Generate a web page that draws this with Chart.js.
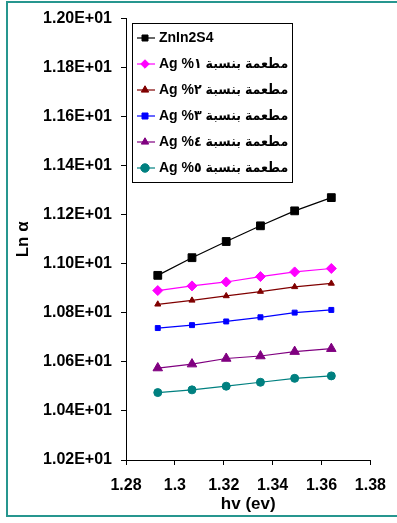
<!DOCTYPE html>
<html>
<head>
<meta charset="utf-8">
<script src="https://cdn.jsdelivr.net/npm/chart.js@4.4.1/dist/chart.umd.min.js"></script>
<style>
  html, body { margin: 0; padding: 0; background: #fff; overflow: hidden; }
  canvas { display: block; }
</style>
</head>
<body>
<canvas id="c" width="397" height="523"></canvas>
<script>
// photon energy (eV)
const hv = [1.293, 1.307, 1.321, 1.335, 1.349, 1.364];

// ln(alpha) for each sample
const znIn2S4 = [10.953, 11.025, 11.091, 11.155, 11.216, 11.270];
const ag1 = [10.891, 10.910, 10.926, 10.948, 10.967, 10.981];
const ag2 = [10.835, 10.851, 10.869, 10.887, 10.906, 10.920];
const ag3 = [10.738, 10.750, 10.765, 10.782, 10.801, 10.812];
const ag4 = [10.575, 10.591, 10.614, 10.624, 10.642, 10.654];
const ag5 = [10.475, 10.486, 10.501, 10.517, 10.533, 10.543];

const seriesNames = [
  'ZnIn2S4',
  'مطعمة بنسبة ١% Ag',
  'مطعمة بنسبة ٢% Ag',
  'مطعمة بنسبة ٣% Ag',
  'مطعمة بنسبة ٤% Ag',
  'مطعمة بنسبة ٥% Ag'
];

const xTicks = [1.28, 1.30, 1.32, 1.34, 1.36, 1.38];
const yTicks = [10.2, 10.4, 10.6, 10.8, 11.0, 11.2, 11.4, 11.6, 11.8, 12.0];

const FONT = '"Liberation Sans", Arial, "DejaVu Sans", sans-serif';
const LEGEND_FONT = '"Liberation Sans", Arial, "DejaVu Sans Condensed", "DejaVu Sans", sans-serif';
const LEGEND_SIZE = 14;

function sci(v) {
  const e = Math.floor(Math.log10(Math.abs(v)) + 1e-9);
  const m = v / Math.pow(10, e);
  return m.toFixed(2) + 'E' + (e >= 0 ? '+' : '-') + String(Math.abs(e)).padStart(2, '0');
}

function series(label, values, color, style, radius) {
  return {
    label,
    data: values.map((y, i) => ({ x: hv[i], y })),
    borderColor: color,
    backgroundColor: color,
    borderWidth: 1.2,
    pointStyle: style,
    pointRadius: radius,
    pointBorderWidth: 1,
    pointHoverRadius: radius,
    tension: 0
  };
}

// page border, legend frame and the line samples behind legend markers
const decorations = {
  id: 'decorations',
  beforeDraw(chart) {
    const ctx = chart.ctx;
    ctx.save();
    ctx.fillStyle = '#ffffff';
    ctx.fillRect(0, 0, chart.width, chart.height);
    ctx.strokeStyle = '#26968f';
    ctx.lineWidth = 2;
    ctx.strokeRect(7, 2, chart.width, 514);

    const boxes = chart.legend && chart.legend.legendHitBoxes;
    if (boxes && boxes.length) {
      const l = Math.min(...boxes.map(b => b.left));
      const t = Math.min(...boxes.map(b => b.top));
      const r = Math.max(...boxes.map(b => b.left + b.width));
      const btm = Math.max(...boxes.map(b => b.top + b.height));
      ctx.strokeStyle = '#000';
      ctx.lineWidth = 1;
      ctx.strokeRect(Math.round(l - 6) + 0.5, Math.round(t - 8) + 0.5,
                     Math.round(r - l + 10), Math.round(btm - t + 15));
      boxes.forEach((b, i) => {
        const ds = chart.data.datasets[i];
        const cx = b.left + LEGEND_SIZE / 2 + 1;
        const cy = b.top + b.height / 2;
        ctx.strokeStyle = ds.borderColor;
        ctx.lineWidth = 1.2;
        ctx.beginPath();
        ctx.moveTo(cx - 9, cy);
        ctx.lineTo(cx + 9, cy);
        ctx.stroke();
      });
    }
    ctx.restore();
  }
};

new Chart(document.getElementById('c'), {
  type: 'line',
  data: {
    datasets: [
      series(seriesNames[0], znIn2S4, '#000000', 'rect', 5.5),
      series(seriesNames[1], ag1, '#ff00ff', 'rectRot', 5),
      series(seriesNames[2], ag2, '#800000', 'triangle', 3.5),
      series(seriesNames[3], ag3, '#0000ff', 'rect', 3.5),
      series(seriesNames[4], ag4, '#800080', 'triangle', 5.5),
      series(seriesNames[5], ag5, '#008080', 'circle', 4)
    ]
  },
  options: {
    responsive: false,
    animation: false,
    devicePixelRatio: 1,
    layout: { padding: { left: 8, top: 18, right: 17, bottom: 6 } },
    plugins: {
      tooltip: { enabled: false },
      legend: {
        position: 'chartArea',
        align: 'start',
        textDirection: 'rtl',
        title: {
          display: true,
          text: '',
          font: { family: FONT, size: 10 },
          padding: { top: 3.5, bottom: 3.5 }
        },
        labels: {
          usePointStyle: true,
          boxWidth: LEGEND_SIZE + 1,
          boxHeight: 6,
          padding: 12,
          color: '#000',
          font: { family: LEGEND_FONT, size: LEGEND_SIZE, weight: 'bold' }
        }
      }
    },
    scales: {
      x: {
        type: 'linear',
        min: xTicks[0],
        max: xTicks[xTicks.length - 1],
        afterBuildTicks: s => { s.ticks = xTicks.map(v => ({ value: v })); },
        afterFit: s => { s.height = 57; },
        grid: { drawOnChartArea: false, drawTicks: true, tickLength: 5, color: '#000' },
        border: { display: true, color: '#000', width: 1 },
        ticks: {
          color: '#000',
          padding: 11,
          maxRotation: 0,
          autoSkip: false,
          font: { family: FONT, size: 16, weight: 'bold' },
          callback: v => String(Math.round(v * 100) / 100)
        },
        title: {
          display: true,
          text: 'hv (ev)',
          color: '#000',
          padding: { top: 2, bottom: 2 },
          font: { family: FONT, size: 17, weight: 'bold' }
        }
      },
      y: {
        type: 'linear',
        min: yTicks[0],
        max: yTicks[yTicks.length - 1],
        afterBuildTicks: s => { s.ticks = yTicks.map(v => ({ value: v })); },
        afterFit: s => { s.width = 118; },
        grid: { drawOnChartArea: false, drawTicks: true, tickLength: 5, color: '#000' },
        border: { display: true, color: '#000', width: 1 },
        ticks: {
          color: '#000',
          padding: 9,
          autoSkip: false,
          font: { family: FONT, size: 16, weight: 'bold' },
          callback: v => sci(v)
        },
        title: {
          display: true,
          text: 'Ln α',
          color: '#000',
          padding: { top: 5, bottom: 0 },
          font: { family: FONT, size: 17, weight: 'bold' }
        }
      }
    }
  },
  plugins: [decorations]
});
</script>
</body>
</html>
